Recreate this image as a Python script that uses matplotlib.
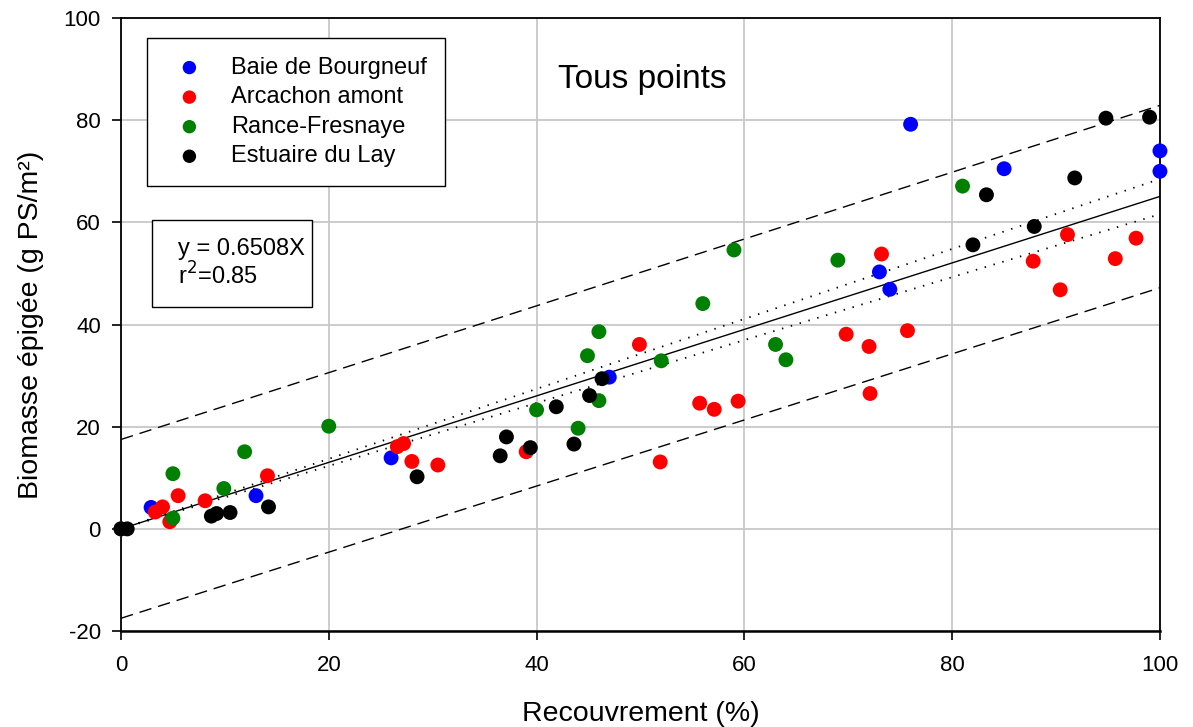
import matplotlib.pyplot as plt
from matplotlib.patches import Rectangle

plt.rcParams["font.family"] = ["Liberation Sans", "DejaVu Sans"]
plt.rcParams["axes.unicode_minus"] = False

# Recouvrement (%) / Biomasse epigee (g PS/m2) per site
bourgneuf_x = [2.9, 13, 26, 47, 73, 74, 76, 85, 100, 100]
bourgneuf_y = [4.2, 6.5, 13.9, 29.7, 50.3, 46.9, 79.2, 70.5, 74, 70]

arcachon_x = [3.3, 4.0, 4.7, 5.5, 8.1, 14.1, 26.6, 27.2, 28.0, 30.5, 39.0, 49.9, 51.9,
              55.7, 57.1, 59.4, 69.8, 72.0, 72.1, 73.2, 75.7, 87.8, 90.4, 91.1, 95.7, 97.7]
arcachon_y = [3.3, 4.3, 1.4, 6.5, 5.5, 10.4, 16.1, 16.7, 13.2, 12.5, 15.1, 36.1, 13.1,
              24.6, 23.4, 25.0, 38.1, 35.7, 26.5, 53.8, 38.8, 52.4, 46.8, 57.6, 52.9, 56.9]

rance_x = [0, 5, 5, 9.9, 11.9, 20, 40, 44, 44.9, 46, 46, 52, 56, 59, 63, 64, 69, 81]
rance_y = [0, 10.8, 2.1, 7.9, 15.1, 20.1, 23.3, 19.7, 33.9, 38.6, 25.1, 32.9, 44.1,
           54.6, 36.1, 33.1, 52.6, 67.1]

lay_x = [0, 0.6, 8.7, 9.2, 10.5, 14.2, 28.5, 36.5, 37.1, 39.4, 41.9, 43.6, 45.1, 46.3,
         82.0, 83.3, 87.9, 91.8, 94.8, 99.0]
lay_y = [0, 0, 2.5, 3.0, 3.2, 4.3, 10.2, 14.3, 18.0, 15.9, 23.9, 16.6, 26.1, 29.4,
         55.6, 65.4, 59.2, 68.7, 80.4, 80.6]

# regression through origin and its bands (values at x=0 and x=100)
slope = 0.6508
line_x = [0, 100]
ci_upper = [0, 68.5]
ci_lower = [0, 61.6]
pi_upper = [17.5, 82.9]
pi_lower = [-17.5, 47.2]

sites = [
    ("Baie de Bourgneuf", bourgneuf_x, bourgneuf_y, "#0000ff"),
    ("Arcachon amont", arcachon_x, arcachon_y, "#ff0000"),
    ("Rance-Fresnaye", rance_x, rance_y, "#008000"),
    ("Estuaire du Lay", lay_x, lay_y, "#000000"),
]

fig = plt.figure(figsize=(11.93, 7.27), dpi=100)
ax = fig.add_axes([0.1014, 0.132, 0.8709, 0.8432])

ax.plot(line_x, [slope * v for v in line_x], color="black", linewidth=1.0, zorder=2)
ax.plot(line_x, ci_upper, color="black", linewidth=1.3, linestyle=(0, (0.8, 4.3)), zorder=2)
ax.plot(line_x, ci_lower, color="black", linewidth=1.3, linestyle=(0, (0.8, 4.3)), zorder=2)
ax.plot(line_x, pi_upper, color="black", linewidth=1.0, linestyle=(0, (9, 5)), zorder=2)
ax.plot(line_x, pi_lower, color="black", linewidth=1.0, linestyle=(0, (9, 5)), zorder=2)

for name, xs, ys, col in sites:
    ax.scatter(xs, ys, s=115, color=col, edgecolors="none", label=name, zorder=3,
               clip_on=False)

ax.set_xlim(0, 100)
ax.set_ylim(-20, 100)
ax.set_xticks([0, 20, 40, 60, 80, 100])
ax.set_yticks([-20, 0, 20, 40, 60, 80, 100])
ax.grid(True, color="#c8c8c8", linewidth=1.3)
ax.set_axisbelow(True)
ax.tick_params(direction="out", length=6.5, width=1.2, labelsize=16,
               top=False, right=False)
ax.tick_params(axis="x", pad=11)
ax.tick_params(axis="y", pad=8)
for side in ["left", "bottom", "top", "right"]:
    ax.spines[side].set_linewidth(1.3)
ax.spines["bottom"].set_linewidth(1.8)

ax.set_xlabel("Recouvrement (%)", fontsize=20.5, labelpad=18)
ax.set_ylabel("Biomasse épigée (g PS/m²)", fontsize=20.5, labelpad=14)

ax.text(0.5014, 0.9, "Tous points", transform=ax.transAxes, fontsize=24,
        ha="center", va="center")

leg = ax.legend(loc="upper left", bbox_to_anchor=(0.0246, 0.8676, 0.2871, 0.1),
                mode="expand", fontsize=17, frameon=True, fancybox=False,
                edgecolor="black", framealpha=1, borderpad=0.8, labelspacing=0.32,
                handletextpad=0.76, borderaxespad=0, markerscale=0.9,
                handlelength=2.03)
leg.get_frame().set_linewidth(1.0)

# equation box
ax.add_patch(Rectangle((0.0295, 0.5281), 0.1545, 0.1425, transform=ax.transAxes,
                       facecolor="white", edgecolor="black", linewidth=1.0, zorder=4))
ax.text(0.0545, 0.6225, "y = 0.6508X", transform=ax.transAxes, fontsize=17,
        ha="left", va="center", zorder=5)
ax.text(0.0545, 0.5795, "r$^2$=0.85", transform=ax.transAxes, fontsize=17,
        ha="left", va="center", zorder=5)

fig.savefig("out.png", dpi=100)
